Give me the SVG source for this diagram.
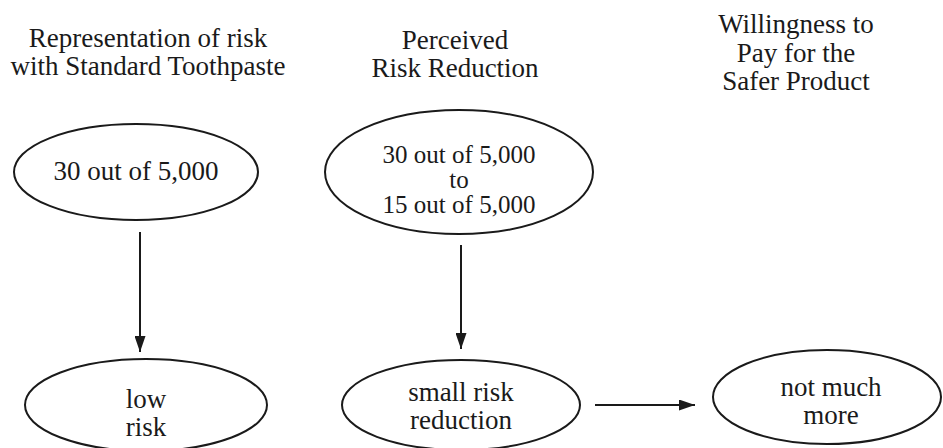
<svg xmlns="http://www.w3.org/2000/svg" width="943" height="448" viewBox="0 0 943 448">
<style>
  .t { font-family: 'Liberation Serif', 'Times New Roman', serif; font-size: 27px; fill: #1a1a1a; text-anchor: middle; }
  .s { font-size: 25px; }
  ellipse { fill: none; stroke: #1a1a1a; stroke-width: 2; }
  .conn line { stroke: #1a1a1a; stroke-width: 2; }
</style>
<defs>
  <marker id="arr" viewBox="0 0 16 11" refX="16" refY="5.5" markerWidth="16" markerHeight="11" markerUnits="userSpaceOnUse" orient="auto">
    <path d="M0,0 L16,5.5 L0,11 Z" fill="#1a1a1a"/>
  </marker>
</defs>

<g id="headers" class="t">
  <text x="148" y="47">Representation of risk</text>
  <text x="148" y="75">with Standard Toothpaste</text>
  <text x="455" y="49">Perceived</text>
  <text x="455" y="77">Risk Reduction</text>
  <text x="796" y="33">Willingness to</text>
  <text x="796" y="62">Pay for the</text>
  <text x="796" y="90">Safer Product</text>
</g>

<g id="node-standard" class="t">
  <ellipse cx="136" cy="172" rx="122" ry="48"/>
  <text x="136" y="180">30 out of 5,000</text>
</g>

<g id="node-perceived" class="t">
  <ellipse cx="459" cy="172" rx="134" ry="62"/>
  <text class="s" x="459" y="163">30 out of 5,000</text>
  <text class="s" x="459" y="188">to</text>
  <text class="s" x="459" y="213">15 out of 5,000</text>
</g>

<g id="node-lowrisk" class="t">
  <ellipse cx="146" cy="405" rx="121" ry="46"/>
  <text x="146" y="408">low</text>
  <text x="146" y="436">risk</text>
</g>

<g id="node-small" class="t">
  <ellipse cx="461" cy="405" rx="119" ry="45"/>
  <text x="461" y="401">small risk</text>
  <text x="461" y="429">reduction</text>
</g>

<g id="node-notmuch" class="t">
  <ellipse cx="827" cy="397" rx="114" ry="47"/>
  <text x="831" y="396">not much</text>
  <text x="831" y="424">more</text>
</g>

<g class="conn" id="connectors">
  <line x1="140" y1="232" x2="140" y2="352" marker-end="url(#arr)"/>
  <line x1="461" y1="245" x2="461" y2="349" marker-end="url(#arr)"/>
  <line x1="595" y1="405" x2="695" y2="405" marker-end="url(#arr)"/>
</g>
</svg>
